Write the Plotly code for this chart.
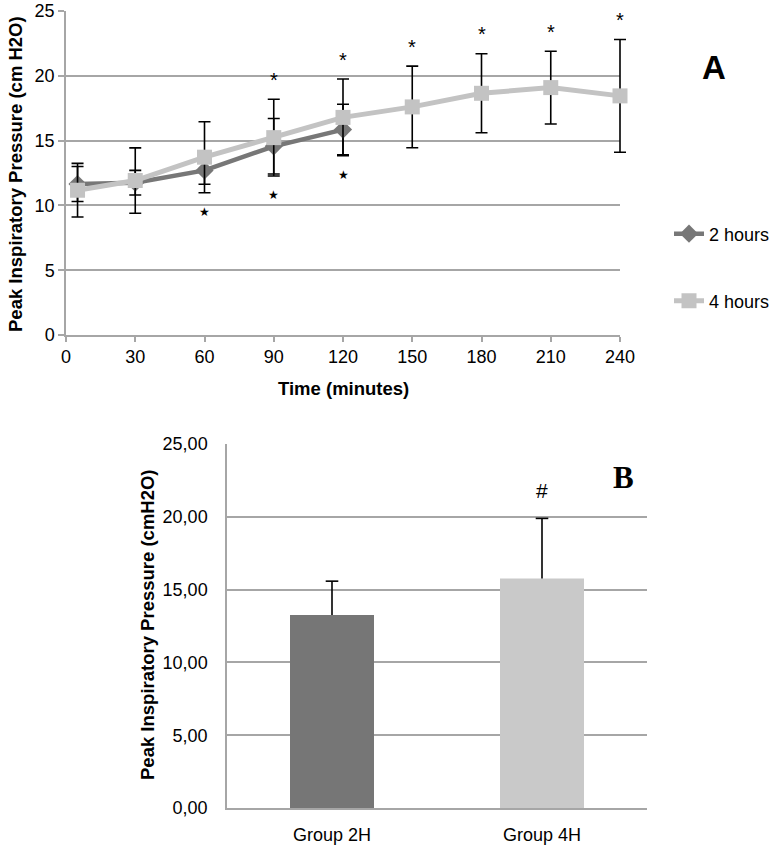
import plotly.graph_objects as go

W, H = 779, 847

# panel A: peak inspiratory pressure over time
times_2h = [5, 30, 60, 90, 120]
pip_2h = [11.65, 11.75, 12.7, 14.56, 15.85]
sd_2h = [1.35, 0.95, 1.07, 2.14, 1.95]

times_4h = [5, 30, 60, 90, 120, 150, 180, 210, 240]
pip_4h = [11.17, 11.92, 13.72, 15.23, 16.79, 17.6, 18.65, 19.09, 18.45]
sd_4h = [2.07, 2.52, 2.74, 2.96, 2.96, 3.15, 3.05, 2.81, 4.35]

x_ticks = [0, 30, 60, 90, 120, 150, 180, 210, 240]

# significance marks on panel A
ast_times = [90, 120, 150, 180, 210, 240]
star_times = [60, 90, 120]

# panel B: group means
groups = ["Group 2H", "Group 4H"]
group_mean = [13.25, 15.77]
group_sd = [2.33, 4.12]
hash_groups = ["Group 4H"]

DARK = "#777777"
LIGHT = "#c3c3c3"
GRID = "#a6a6a6"
SANS = "Liberation Sans, Arial, sans-serif"


def px(x):
    return x / W


def py(y):
    return 1 - y / H


# panel A pixel frame; data drawn on a slightly wider invisible subplot
# so the last error bar cap is not clipped
A_L, A_R, A_DATA_R = 66, 620, 650
A_XMAX = 240
data_xmax = A_XMAX * (A_DATA_R - A_L) / (A_R - A_L)

fig = go.Figure()

# invisible trace so the visible frame/grid of panel A is drawn
fig.add_trace(go.Scatter(x=times_4h, y=pip_4h, mode="none", showlegend=False,
                         hoverinfo="skip", xaxis="x", yaxis="y"))

fig.add_trace(go.Scatter(
    x=times_2h, y=pip_2h, name="2 hours", mode="lines+markers",
    line=dict(color=DARK, width=4.5),
    marker=dict(symbol="diamond", size=14, color=DARK),
    error_y=dict(type="data", array=sd_2h, color="black", thickness=1.6, width=6),
    xaxis="x3", yaxis="y3", legend="legend",
))
fig.add_trace(go.Scatter(
    x=times_4h, y=pip_4h, name="4 hours", mode="lines+markers",
    line=dict(color=LIGHT, width=5),
    marker=dict(symbol="square", size=15, color=LIGHT),
    error_y=dict(type="data", array=sd_4h, color="black", thickness=1.6, width=6),
    xaxis="x3", yaxis="y3", legend="legend2",
))

# bars with upper error stem (no caps), cap drawn separately on top only
fig.add_trace(go.Bar(
    x=groups, y=group_mean, marker=dict(color=["#767676", "#c9c9c9"], line=dict(width=0)),
    width=0.4, showlegend=False,
    error_y=dict(type="data", symmetric=False, array=group_sd, arrayminus=[0, 0],
                 color="black", thickness=1.6, width=0),
    xaxis="x2", yaxis="y2",
))
fig.add_trace(go.Scatter(
    x=groups, y=[m + s for m, s in zip(group_mean, group_sd)], mode="markers",
    marker=dict(symbol="line-ew", size=9, line=dict(color="black", width=1.6)),
    showlegend=False, hoverinfo="skip", xaxis="x2", yaxis="y2",
))

annotations = []
for t in ast_times:
    i = times_4h.index(t)
    annotations.append(dict(x=t, y=pip_4h[i] + sd_4h[i] + 1.5, xref="x3", yref="y3",
                            text="*", font=dict(family=SANS, size=20, color="black")))
for t in star_times:
    i = times_4h.index(t)
    j = times_2h.index(t)
    low = min(pip_4h[i] - sd_4h[i], pip_2h[j] - sd_2h[j])
    annotations.append(dict(x=t, y=low - 1.5, xref="x3", yref="y3",
                            text="★", font=dict(family="DejaVu Sans", size=12, color="black")))
for g in hash_groups:
    i = groups.index(g)
    annotations.append(dict(x=g, y=group_mean[i] + group_sd[i] + 1.9, xref="x2", yref="y2",
                            text="#", font=dict(family=SANS, size=21, color="black")))

annotations += [
    dict(x=px(714), y=py(67), text="<b>A</b>", font=dict(family=SANS, size=33, color="black")),
    dict(x=px(623), y=py(477), text="<b>B</b>",
         font=dict(family="Liberation Serif, Times New Roman, serif", size=31, color="black")),
    dict(x=px(15), y=py(174), text="<b>Peak Inspiratory Pressure (cm H2O)</b>", textangle=-90,
         font=dict(family=SANS, size=18.5, color="black")),
    dict(x=px(343), y=py(388), text="<b>Time (minutes)</b>",
         font=dict(family=SANS, size=18.5, color="black")),
    dict(x=px(147), y=py(625), text="<b>Peak Inspiratory Pressure (cmH2O)</b>", textangle=-90,
         font=dict(family=SANS, size=18.5, color="black")),
]
for a in annotations:
    a.setdefault("xref", "paper")
    a.setdefault("yref", "paper")
    a["showarrow"] = False
    a["xanchor"] = "center"
    a["yanchor"] = "middle"

fig.update_layout(
    width=W, height=H,
    margin=dict(l=0, r=0, t=0, b=0),
    paper_bgcolor="white", plot_bgcolor="rgba(0,0,0,0)",
    font=dict(family=SANS, size=18, color="black"),
    separators=",.",
    annotations=annotations,
    legend=dict(x=px(669), y=py(234), xanchor="left", yanchor="middle",
                font=dict(family=SANS, size=18), bgcolor="rgba(0,0,0,0)"),
    legend2=dict(x=px(669), y=py(301), xanchor="left", yanchor="middle",
                 font=dict(family=SANS, size=18), bgcolor="rgba(0,0,0,0)"),
    xaxis=dict(domain=[px(A_L), px(A_R)], range=[0, A_XMAX], tickvals=x_ticks,
               showgrid=False, zeroline=False, showline=True, linecolor=GRID, linewidth=1.5,
               ticks="outside", ticklen=5, tickcolor=GRID, tickwidth=1.5,
               anchor="y", automargin=False),
    yaxis=dict(domain=[py(335), py(11)], range=[0, 25], dtick=5,
               showgrid=True, gridcolor=GRID, gridwidth=1.5, zeroline=False,
               showline=True, linecolor=GRID, linewidth=1.5,
               ticks="outside", ticklen=6, tickcolor=GRID, tickwidth=1.5,
               anchor="x", automargin=False),
    xaxis3=dict(domain=[px(A_L), px(A_DATA_R)], range=[0, data_xmax], visible=False,
                anchor="y3", automargin=False),
    yaxis3=dict(domain=[py(335), py(11)], range=[0, 25], visible=False,
                anchor="x3", automargin=False),
    xaxis2=dict(domain=[px(227), px(647)], showgrid=False, zeroline=False,
                showline=True, linecolor=GRID, linewidth=1.5, ticks="",
                anchor="y2", automargin=False, ticklabelstandoff=10),
    yaxis2=dict(domain=[py(808), py(444)], range=[0, 25], dtick=5, tickformat=".2f",
                showgrid=True, gridcolor=GRID, gridwidth=1.5, zeroline=False,
                showline=True, linecolor=GRID, linewidth=1.5, ticks="",
                anchor="x2", automargin=False, ticklabelstandoff=14),
)

fig.write_html("out.html", config={"displayModeBar": False},
               post_script="document.body.style.margin='0';")
